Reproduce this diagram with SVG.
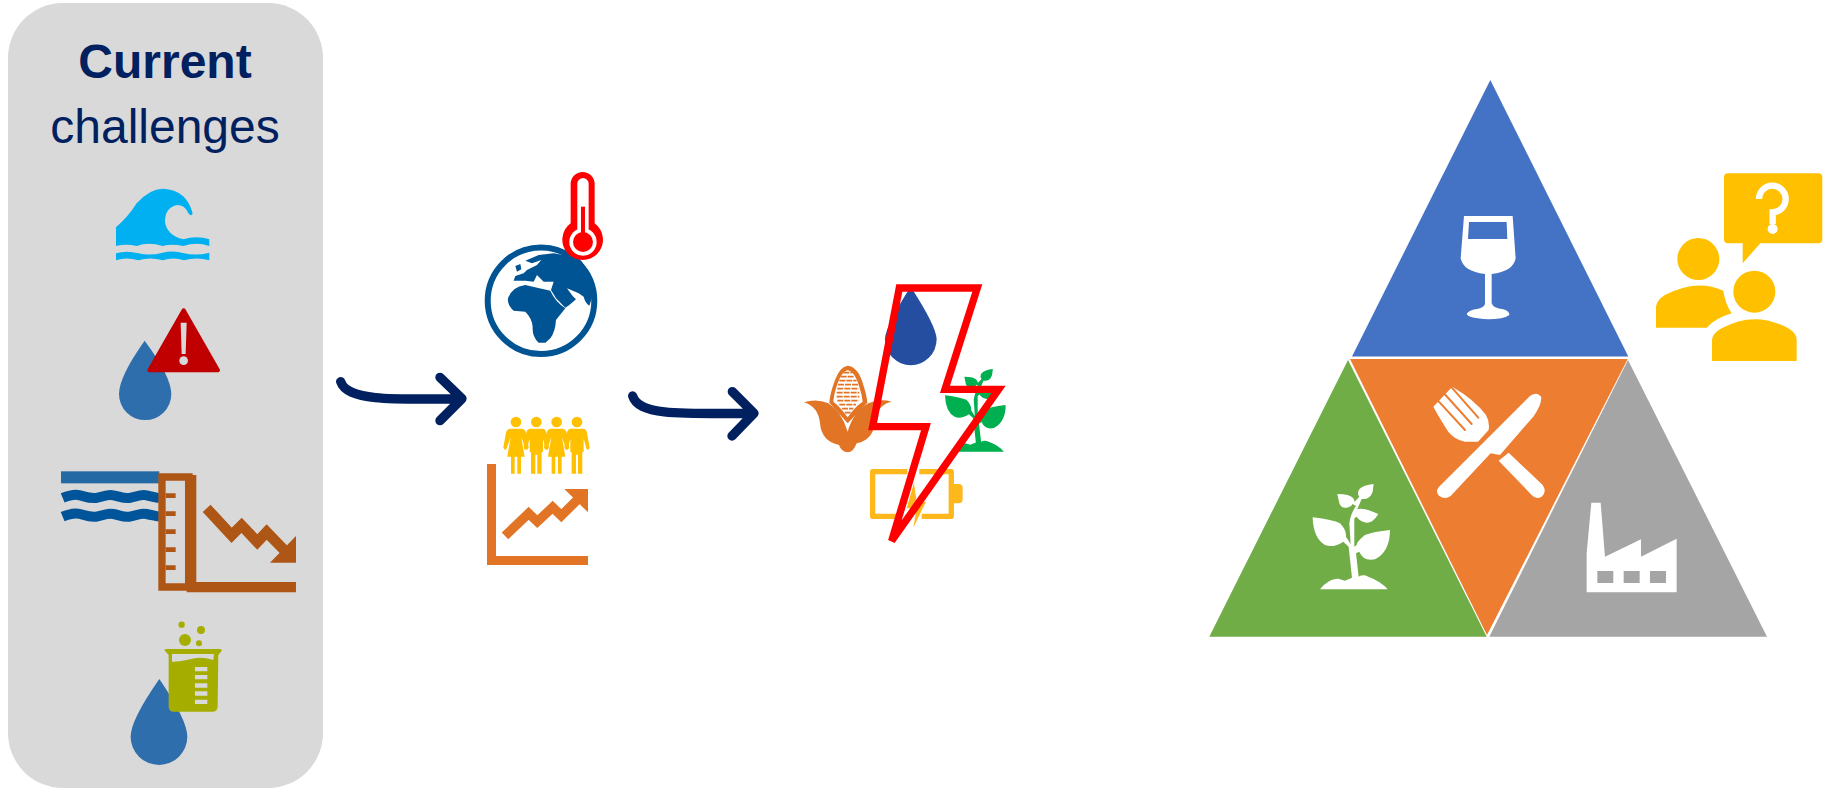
<svg xmlns="http://www.w3.org/2000/svg" width="1833" height="788" viewBox="0 0 1833 788">
<style>
text{font-family:"Liberation Sans",Arial,sans-serif;font-size:48px;fill:#002060;text-anchor:middle}
.arrow{fill:none;stroke:#002060;stroke-width:28;stroke-linecap:round;stroke-linejoin:round}
.w{fill:#fff}.y{fill:#ffc000}.b{fill:#ae5615}.o{fill:#e27425}.p{fill:#d9d9d9}
</style>
<defs>
<path id="plant" d="M338 502Q400 510 420 520Q440 540 438 560L452 582L448 520Q452 490 468 468L458 462Q455 470 445 472Q425 478 418 460L412 432Q450 432 460 445L464 455L478 440Q470 430 478 418Q490 405 521 402L518 425Q510 450 485 447L472 478Q490 472 535 492Q520 518 500 518Q480 515 470 500L463 505V590L470 585Q470 575 495 555Q520 545 570 540Q570 605 525 628Q490 635 478 605L468 610L476 680Q490 672 505 680Q545 695 563 718H360Q385 685 415 686L435 692L456 683L446 590L430 575Q400 595 375 585Q340 565 338 502Z"/>
<g id="man"><circle r="16"/><path d="M-20 20H20Q28 21 30 32L38 76Q36 86 29 82L20 50V90H16V155H3V98H-3V155H-16V90H-20V50L-29 82Q-36 86 -38 76L-30 32Q-28 21 -20 20Z"/></g>
<g id="woman"><circle r="16"/><path d="M-18 20H18Q28 21 30 32L38 76Q36 86 29 82L16 46L26 104H15V155H4V104H-4V155H-15V104H-26L-16 46L-29 82Q-36 86 -38 76L-30 32Q-28 21 -18 20Z"/></g>
</defs>
<rect width="1833" height="788" fill="#fff"/>
<g id="panel"><rect x="8" y="3" width="315" height="785" rx="55" class="p"/>
<text x="165" y="78" font-weight="700">Current</text><text x="165" y="143">challenges</text></g>
<g id="wave" transform="scale(.3333)" fill="#00b0f0"><path d="M348 682Q385 650 410 610Q450 565 490 566Q560 570 578 640Q575 652 565 640Q555 615 532 615Q495 622 495 665Q500 705 550 718Q590 705 628 718V738Q590 725 550 738Q515 730 488 738Q445 725 410 738Q380 730 348 738ZM348 760Q380 750 415 760Q450 768 488 758Q520 750 552 760Q590 768 628 758V781Q590 770 552 781Q520 770 488 781Q450 770 415 781Q380 770 348 781Z"/></g>
<g id="water-alert" transform="scale(.3333)"><path fill="#2e6eac" d="M434 1022Q357 1130 357 1182A78 78 0 0 0 514 1182Q514 1130 434 1022Z"/><path fill="#c00000" stroke="#c00000" stroke-width="12" stroke-linejoin="round" d="M551 931L654 1111H448Z"/><path class="p" d="M542 968H560L557 1062H545Z"/><circle cx="551" cy="1082" r="13" class="p"/></g>
<g id="water-level" transform="translate(0,430) scale(.3333)">
<rect x="183" y="124" width="295" height="36" fill="#2369a4"/>
<path fill="none" stroke="#00549a" stroke-width="30" d="M188 204C210 195 225 192 240 196S270 206 288 204S320 192 340 196S370 206 388 204S420 192 440 196S465 202 478 204M188 260C210 251 225 248 240 252S270 262 288 260S320 248 340 252S370 262 388 260S420 248 440 252S465 258 478 260"/>
<path class="b" fill-rule="evenodd" d="M475 130H578V135H589V456H888V487H560V482H475ZM497 152V460H555V152Z"/>
<path class="b" d="M497 190H527V204H497ZM497 244H527V258H497ZM497 298H527V312H497ZM497 352H527V366H497ZM497 406H527V420H497Z"/>
<path fill="none" stroke="#ae5615" stroke-width="32" d="M620 235L695 316L725 286L772 336L800 306L860 368"/><path class="b" d="M888 318V398H810Z"/></g>
<g id="water-chem" transform="translate(0,430) scale(.3333)">
<path fill="#2e6eac" d="M478 747Q392 870 392 920A85 85 0 0 0 562 920Q562 870 478 747Z"/>
<g fill="#a5ae00"><circle cx="545" cy="584" r="9.5"/><circle cx="603" cy="600" r="12"/><circle cx="555" cy="630" r="18"/><circle cx="597" cy="640" r="9"/><path d="M493 660Q495 657 500 657H660Q666 657 665 663L655 675L653 830Q652 845 637 845H522Q507 845 506 830V675Z"/></g>
<path class="p" d="M516 672H642L640 690Q600 678 570 688Q540 696 516 695ZM585 711h37v13h-37zM585 735h37v13h-37zM585 760h37v13h-37zM585 784h37v13h-37zM585 809h37v13h-37z"/></g>
<g id="globe">
<circle cx="541" cy="300.7" r="53.3" fill="#fff" stroke="#005494" stroke-width="6"/>
<path fill="#005494" transform="translate(482,240) scale(.3333)" d="M95 122L100 108L125 100L135 90L165 75L178 60L150 70L130 62L170 45L215 40L245 45L260 25L300 65Q328 110 333 165L322 197Q310 190 305 170L290 160L255 145L272 168L282 178L262 195L250 203L222 175L207 150L215 125L185 125L165 105L155 125L130 122ZM78 175Q90 140 130 135L205 152Q220 185 250 205L222 240Q220 275 205 295L190 308H170Q150 290 152 260Q150 235 130 215L95 212Q75 195 78 175ZM100 78L115 72L118 88L105 95Z"/>
<g transform="translate(330,160) scale(.3333)"><path fill="#f00" d="M758 36A36 36 0 0 1 794 72V190A61 61 0 1 1 722 190V72A36 36 0 0 1 758 36Z"/>
<rect x="742" y="54" width="34" height="170" rx="17" class="w"/><circle cx="759" cy="246" r="41" class="w"/>
<circle cx="759" cy="246" r="30" fill="#f00"/><rect x="753" y="140" width="12" height="90" fill="#f00"/></g></g>
<g id="population" transform="translate(330,160) scale(.3333)">
<g class="y"><use href="#woman" x="558" y="786"/><use href="#man" x="619" y="786"/><use href="#woman" x="680" y="786"/><use href="#man" x="741" y="786"/></g>
<path class="o" d="M471 912H498V1188H774V1215H471Z"/>
<path fill="none" stroke="#e27425" stroke-width="28" d="M525 1128L596 1060L622 1085L668 1042L694 1067L752 1010"/><path class="o" d="M703 987H774V1057Z"/></g>
<g id="connectors">
<g transform="translate(330,160) scale(.3333)"><path class="arrow" d="M32 665C50 720 170 720 395 716M330 652L396 716L330 782"/></g>
<g transform="translate(620,260) scale(.3333)"><path class="arrow" d="M38 408C55 465 170 462 402 460M337 395L402 460L336 528"/></g>
</g>
<g id="water-drop" transform="translate(620,260) scale(.3333)"><path fill="#264ea0" d="M872 80Q950 200 950 238A77 77 0 0 1 795 238Q795 200 872 80Z"/></g>
<g id="corn" transform="translate(800,360) scale(.3333)">
<path class="o" d="M143 17Q175 20 190 75Q200 105 202 128L143 190L88 128Q90 100 105 60Q120 20 143 17Z"/>
<path class="w" d="M143 30Q165 35 178 80Q186 105 188 125Q165 140 143 172Q120 140 100 125Q102 100 113 70Q125 35 143 30Z"/>
<path fill="none" stroke="#e27425" stroke-width="5" stroke-dasharray="18 3" d="M130 38H156M122 50H164M118 62H170M114 74H174M112 86H176M110 98H178M110 110H178M112 122H176M118 134H168M126 146H160M134 158H152"/>
<path class="o" d="M12 127Q50 115 85 130Q125 155 143 215Q160 155 205 130Q240 115 275 125Q240 130 225 175Q225 240 170 250Q160 277 143 277Q125 277 117 255Q65 245 60 190Q55 140 12 127Z"/></g>
<g id="crop-plant" transform="translate(620,260) scale(.3333)"><use href="#plant" fill="#00b050" transform="translate(709.7,11.4) scale(.785)"/></g>
<g id="battery" transform="translate(620,260) scale(.3333)"><path fill="none" stroke="#ffb81c" stroke-width="16" stroke-linejoin="round" d="M862 635H758V769H830M905 769H994V635H898"/>
<path fill="#ffb81c" d="M1002 672H1016Q1028 672 1028 684V718Q1028 730 1016 730H1002ZM882 668L860 745H890L880 803L918 725H890Z"/></g>
<g id="bolt" transform="translate(620,260) scale(.3333)"><path fill="none" stroke="#f00" stroke-width="22" stroke-miterlimit="5" d="M838 84H1072L975 388H1136L815 843L918 500H758Z"/></g>
<g id="tri-blue"><path fill="#4472c4" d="M1490.3 80L1352 356.5H1628.3Z"/><path class="w" transform="translate(1340,70) scale(.3333)" fill-rule="evenodd" d="M372 438H518L527 565Q520 605 455 612V700Q460 715 490 718Q510 725 508 735Q490 748 445 748Q385 745 380 732Q385 720 415 716Q435 712 435 700V612Q370 605 362 565ZM387 456L384 507H502L500 456Z"/></g>
<g id="tri-orange"><path fill="#ed7d31" d="M1350 359H1627.7L1487 635Z"/><g transform="translate(1200,350) scale(.3333)"><path class="w" d="M716 412L990 138Q1012 122 1024 142Q1025 165 1000 200L900 315L872 310L752 438Q735 450 718 438Q705 425 716 412ZM896 332L926 308L1028 405Q1042 425 1025 440Q1008 450 995 435ZM700 170L757 110Q825 150 858 195Q870 215 866 240L834 275L795 275Q765 270 745 245Q725 215 700 170Z"/><path fill="none" stroke="#ed7d31" stroke-width="6" stroke-linecap="round" d="M714 152L795 240M734 132L815 222M755 112L835 203"/></g></g>
<g id="tri-green"><path fill="#70ad47" d="M1348 360L1209.3 636.7H1486.7Z"/><use href="#plant" class="w" transform="translate(1200,350) scale(.3333)"/></g>
<g id="tri-gray"><path fill="#a5a5a5" d="M1628 360L1489.3 636.7H1767Z"/><path class="w" fill-rule="evenodd" transform="translate(1480,350) scale(.3333)" d="M334 458H362L375 620L483 568V620L590 566V727H320V610ZM352 663V699H400V663ZM431 663V699H479V663ZM510 663V699H558V663Z"/></g>
<g id="stakeholders" transform="translate(1640,160) scale(.3333)"><g class="y"><rect x="252" y="40" width="295" height="210" rx="12"/><path d="M308 245V310L365 245Z"/><circle cx="175" cy="297" r="63"/><circle cx="343" cy="395" r="63"/><path d="M48 503V440Q50 420 75 405Q170 355 250 392Q255 430 275 460Q225 475 200 503ZM216 603V540Q218 520 245 505Q345 450 445 505Q470 520 470 540V603Z"/></g>
<path fill="none" stroke="#fff" stroke-width="19" d="M357 117A40 40 0 1 1 398 157V192"/><circle cx="398" cy="207" r="15" class="w"/></g>
</svg>
